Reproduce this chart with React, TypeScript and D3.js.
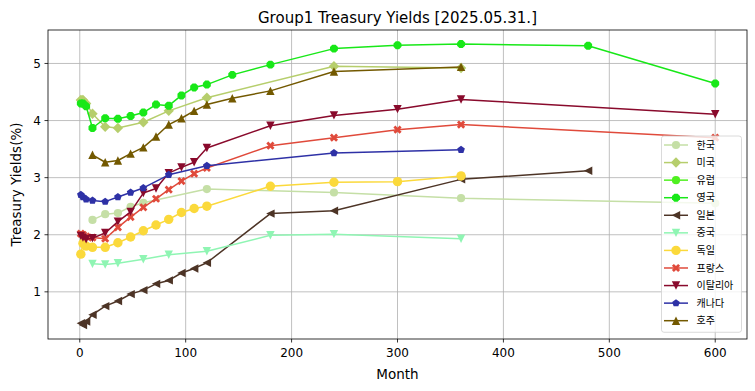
import React from 'react';
import * as d3 from 'd3';

const W = 755;
const H = 391;
const PLOT = { left: 48, right: 747, top: 30, bottom: 339 };

const titleText = 'Group1 Treasury Yields [2025.05.31.]';
const xLabel = 'Month';
const yLabel = 'Treasury Yields(%)';
const xTicks = [0, 100, 200, 300, 400, 500, 600];
const yTicks = [1, 2, 3, 4, 5];

const seriesNames = ['한국', '미국', '유럽', '영국', '일본', '중국', '독일', '프랑스', '이탈리아', '캐나다', '호주'];
const seriesColors = ['#c5dfa6', '#b6ce6c', '#4ff020', '#18e818', '#4d3426', '#8ff5b3', '#fbd93b', '#e04a3b', '#890a2c', '#2e31a6', '#735900'];
const seriesMarkers = ['circle', 'diamond', 'circle', 'octagon', 'triLeft', 'triDown', 'circleL', 'x', 'triDown', 'pentagon', 'triUp'];

const koreaMonths = [12, 24, 36, 48, 60, 120, 240, 360, 600];
const koreaYields = [2.26, 2.36, 2.38, 2.49, 2.56, 2.80, 2.74, 2.64, 2.55];

const usMonths = [1, 2, 3, 4, 6, 12, 24, 36, 60, 84, 120, 240, 360];
const usYields = [4.36, 4.35, 4.36, 4.33, 4.30, 4.12, 3.89, 3.87, 3.97, 4.17, 4.40, 4.95, 4.92];

const euMonths: number[] = [];
const euYields: number[] = [];

const ukMonths = [1, 3, 6, 12, 24, 36, 48, 60, 72, 84, 96, 108, 120, 144, 180, 240, 300, 360, 480, 600];
const ukYields = [4.30, 4.30, 4.25, 3.87, 4.04, 4.03, 4.08, 4.14, 4.28, 4.26, 4.44, 4.58, 4.63, 4.80, 4.98, 5.26, 5.32, 5.34, 5.31, 4.65];

const japanMonths = [1, 3, 6, 12, 24, 36, 48, 60, 72, 84, 96, 108, 120, 180, 240, 360, 480];
const japanYields = [0.45, 0.42, 0.48, 0.60, 0.75, 0.84, 0.96, 1.03, 1.14, 1.20, 1.33, 1.41, 1.51, 2.37, 2.42, 2.97, 3.12];

const chinaMonths = [12, 24, 36, 60, 84, 120, 180, 240, 360];
const chinaYields = [1.49, 1.48, 1.50, 1.57, 1.65, 1.71, 1.99, 2.01, 1.93];

const germanyMonths = [1, 3, 6, 12, 24, 36, 48, 60, 72, 84, 96, 108, 120, 180, 240, 300, 360];
const germanyYields = [1.66, 1.85, 1.80, 1.78, 1.78, 1.86, 1.96, 2.07, 2.17, 2.27, 2.39, 2.46, 2.50, 2.85, 2.92, 2.93, 3.03];

const franceMonths = [1, 3, 6, 12, 24, 36, 48, 60, 72, 84, 96, 108, 120, 180, 240, 300, 360, 600];
const franceYields = [2.02, 2.00, 1.97, 1.95, 1.93, 2.13, 2.31, 2.48, 2.63, 2.79, 2.94, 3.07, 3.17, 3.56, 3.70, 3.84, 3.93, 3.70];

const italyMonths = [1, 3, 6, 12, 24, 36, 48, 60, 72, 84, 96, 108, 120, 180, 240, 300, 360, 600];
const italyYields = [1.98, 1.95, 1.92, 1.94, 2.03, 2.23, 2.40, 2.73, 2.81, 3.08, 3.18, 3.27, 3.52, 3.91, 4.09, 4.20, 4.37, 4.11];

const canadaMonths = [1, 3, 6, 12, 24, 36, 48, 60, 84, 120, 240, 360];
const canadaYields = [2.70, 2.66, 2.62, 2.60, 2.58, 2.66, 2.74, 2.82, 3.05, 3.21, 3.43, 3.49];

const australiaMonths = [12, 24, 36, 48, 60, 72, 84, 96, 108, 120, 144, 180, 240, 360];
const australiaYields = [3.40, 3.27, 3.30, 3.42, 3.53, 3.72, 3.93, 4.04, 4.17, 4.28, 4.39, 4.52, 4.86, 4.94];

const monthsList = [koreaMonths, usMonths, euMonths, ukMonths, japanMonths, chinaMonths, germanyMonths, franceMonths, italyMonths, canadaMonths, australiaMonths];
const yieldsList = [koreaYields, usYields, euYields, ukYields, japanYields, chinaYields, germanyYields, franceYields, italyYields, canadaYields, australiaYields];

function poly(pts: [number, number][]): string {
  return 'M' + pts.map((p) => `${p[0].toFixed(2)},${p[1].toFixed(2)}`).join('L') + 'Z';
}

function regular(n: number, r: number, rot: number): string {
  const pts: [number, number][] = [];
  for (let i = 0; i < n; i++) {
    const a = rot + (i * 2 * Math.PI) / n;
    pts.push([r * Math.sin(a), -r * Math.cos(a)]);
  }
  return poly(pts);
}

function markerPath(type: string): string {
  switch (type) {
    case 'circle':
      return d3.arc()({ innerRadius: 0, outerRadius: 4.1, startAngle: 0, endAngle: 2 * Math.PI }) as string;
    case 'circleL':
      return d3.arc()({ innerRadius: 0, outerRadius: 4.7, startAngle: 0, endAngle: 2 * Math.PI }) as string;
    case 'diamond':
      return poly([[0, -5.2], [5.2, 0], [0, 5.2], [-5.2, 0]]);
    case 'octagon':
      return regular(8, 4.3, Math.PI / 8);
    case 'pentagon':
      return regular(5, 4.0, 0);
    case 'triUp':
      return poly([[0, -4.2], [4.2, 4.2], [-4.2, 4.2]]);
    case 'triDown':
      return poly([[0, 4.2], [4.2, -4.2], [-4.2, -4.2]]);
    case 'triLeft':
      return poly([[-4.2, 0], [4.2, -4.2], [4.2, 4.2]]);
    case 'x': {
      const r = 4.4;
      const a = 1.4;
      const base: [number, number][] = [[-a, -r], [a, -r], [a, -a], [r, -a], [r, a], [a, a], [a, r], [-a, r], [-a, a], [-r, a], [-r, -a], [-a, -a]];
      const c = Math.cos(Math.PI / 4);
      const s = Math.sin(Math.PI / 4);
      return poly(base.map(([x, y]) => [x * c - y * s, x * s + y * c]));
    }
    default:
      return '';
  }
}

export default function App() {
  const allY = yieldsList.flat();
  const yMin = d3.min(allY) as number;
  const yMax = d3.max(allY) as number;
  const yPad = (yMax - yMin) * 0.05;
  const x = d3.scaleLinear().domain([-30, 630]).range([PLOT.left, PLOT.right]);
  const y = d3.scaleLinear().domain([yMin - yPad, yMax + yPad]).range([PLOT.bottom, PLOT.top]);

  const series = seriesNames.map((name, i) => ({
    name,
    color: seriesColors[i],
    marker: seriesMarkers[i],
    pts: monthsList[i].map((m, j) => [m, yieldsList[i][j]] as [number, number]),
  }));

  const line = d3
    .line<[number, number]>()
    .x((d) => x(d[0]))
    .y((d) => y(d[1]));

  const font = "'DejaVu Sans', 'Noto Sans CJK KR', sans-serif";
  const legendFont = "'Noto Sans CJK KR', 'DejaVu Sans', sans-serif";

  const legX = 661.5;
  const legY = 136;
  const legW = 80;
  const legRow = 17.57;
  const legH = legRow * seriesNames.length + 3;

  return (
    <div style={{ position: 'absolute', left: 0, top: 0 }}>
      <svg width={W} height={H} style={{ display: 'block', background: '#fff' }}>
        <rect x={0} y={0} width={W} height={H} fill="#fff" />
        {xTicks.map((t) => (
          <line key={'gx' + t} x1={x(t)} x2={x(t)} y1={PLOT.top} y2={PLOT.bottom} stroke="#b0b0b0" strokeWidth={0.8} />
        ))}
        {yTicks.map((t) => (
          <line key={'gy' + t} x1={PLOT.left} x2={PLOT.right} y1={y(t)} y2={y(t)} stroke="#b0b0b0" strokeWidth={0.8} />
        ))}
        {series.map((s) => (
          <g key={s.name}>
            {s.pts.length > 0 && (
              <path d={line(s.pts) as string} fill="none" stroke={s.color} strokeWidth={1.5} strokeLinejoin="round" />
            )}
            {s.pts.map((p, j) => (
              <path key={j} d={markerPath(s.marker)} transform={`translate(${x(p[0])},${y(p[1])})`} fill={s.color} />
            ))}
          </g>
        ))}
        <rect x={PLOT.left} y={PLOT.top} width={PLOT.right - PLOT.left} height={PLOT.bottom - PLOT.top} fill="none" stroke="#000" strokeWidth={0.8} />
        {xTicks.map((t) => (
          <g key={'xt' + t}>
            <line x1={x(t)} x2={x(t)} y1={PLOT.bottom} y2={PLOT.bottom + 3.5} stroke="#000" strokeWidth={0.8} />
            <text x={x(t)} y={PLOT.bottom + 17.5} textAnchor="middle" fontSize={12} fontFamily={font} fill="#000">
              {t}
            </text>
          </g>
        ))}
        {yTicks.map((t) => (
          <g key={'yt' + t}>
            <line x1={PLOT.left - 3.5} x2={PLOT.left} y1={y(t)} y2={y(t)} stroke="#000" strokeWidth={0.8} />
            <text x={PLOT.left - 7} y={y(t) + 4.3} textAnchor="end" fontSize={12} fontFamily={font} fill="#000">
              {t}
            </text>
          </g>
        ))}
        <text x={(PLOT.left + PLOT.right) / 2} y={379} textAnchor="middle" fontSize={13.5} fontFamily={font} fill="#000">
          {xLabel}
        </text>
        <text
          transform={`translate(21,${(PLOT.top + PLOT.bottom) / 2}) rotate(-90)`}
          textAnchor="middle"
          fontSize={13.5}
          fontFamily={font}
          fill="#000"
        >
          {yLabel}
        </text>
        <text x={(PLOT.left + PLOT.right) / 2} y={23} textAnchor="middle" fontSize={15} fontFamily={font} fill="#000">
          {titleText}
        </text>
        <g>
          <rect x={legX} y={legY} width={legW} height={legH} rx={2.5} fill="#fff" fillOpacity={0.8} stroke="#d0d0d0" strokeWidth={0.8} />
          {series.map((s, i) => {
            const cy = legY + 9 + i * legRow;
            return (
              <g key={'lg' + s.name}>
                <line x1={legX + 2.5} x2={legX + 26.5} y1={cy} y2={cy} stroke={s.color} strokeWidth={1.5} />
                <path d={markerPath(s.marker)} transform={`translate(${legX + 14.5},${cy})`} fill={s.color} />
                <text x={legX + 35} y={cy + 3.6} fontSize={10} fontFamily={legendFont} fill="#000">
                  {s.name}
                </text>
              </g>
            );
          })}
        </g>
      </svg>
    </div>
  );
}
